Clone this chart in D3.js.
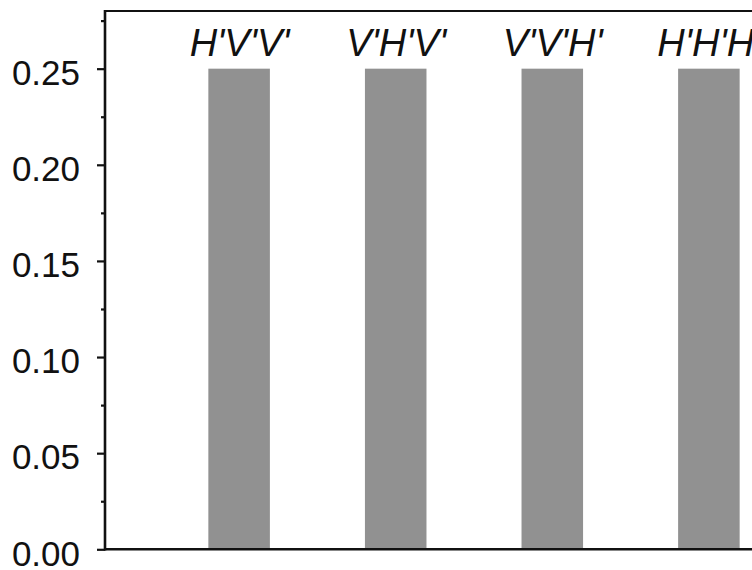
<!DOCTYPE html>
<html>
<head>
<meta charset="utf-8">
<script src="https://cdn.jsdelivr.net/npm/d3@7"></script>
<style>
  html, body { margin: 0; padding: 0; background: #fff; }
  svg { display: block; }
</style>
</head>
<body>
<svg id="chart" width="752" height="570"></svg>
<script>
const categories = ["H'V'V'", "V'H'V'", "V'V'H'", "H'H'H'"];
const values = [0.25, 0.25, 0.25, 0.25];
const majorTicks = [0.00, 0.05, 0.10, 0.15, 0.20, 0.25];
const minorTicks = [0.025, 0.075, 0.125, 0.175, 0.225, 0.275];

(function () {
const svg = d3.select("#chart");
const pLeft = 105, pTop = 11, pBottom = 549.3, pRight = 843;

const y = d3.scaleLinear().domain([0, 0.28]).range([pBottom, pTop]);
const x = d3.scaleBand().domain(categories).range([pLeft, pRight])
  .paddingInner(0.607).paddingOuter(0.66);

// bars
svg.append("g").selectAll("rect").data(values).join("rect")
  .attr("x", (d, i) => x(categories[i]))
  .attr("width", x.bandwidth())
  .attr("y", d => y(d))
  .attr("height", d => y(0) - y(d))
  .attr("fill", "#919191");

// category labels
svg.append("g").selectAll("text").data(categories).join("text")
  .attr("x", d => x(d) + x.bandwidth() / 2 + 0.5)
  .attr("y", 56)
  .attr("text-anchor", "middle")
  .attr("font-family", "Liberation Sans, Arial, sans-serif")
  .attr("font-style", "italic")
  .attr("font-size", 38)
  .attr("fill", "#111")
  .text(d => d);

// frame top and right
svg.append("line").attr("x1", pLeft).attr("x2", pRight).attr("y1", pTop).attr("y2", pTop)
  .attr("stroke", "#111").attr("stroke-width", 2.2);
svg.append("line").attr("x1", pRight).attr("x2", pRight).attr("y1", pTop).attr("y2", pBottom)
  .attr("stroke", "#111").attr("stroke-width", 2.2);

// bottom axis line
svg.append("line").attr("x1", pLeft).attr("x2", pRight).attr("y1", pBottom).attr("y2", pBottom)
  .attr("stroke", "#111").attr("stroke-width", 2.6);

// y axis
const yAxis = d3.axisLeft(y).tickValues(majorTicks).tickFormat(d3.format(".2f"))
  .tickSize(8).tickPadding(17);
const gy = svg.append("g").attr("transform", `translate(${pLeft},0)`).call(yAxis);
gy.select(".domain").remove();
gy.selectAll(".tick line").attr("stroke", "#111").attr("stroke-width", 2.2);
gy.selectAll(".tick text").attr("font-family", "Liberation Sans, Arial, sans-serif")
  .attr("font-size", 35).attr("fill", "#111").attr("dy", "0.45em");

const yMinor = d3.axisLeft(y).tickValues(minorTicks).tickFormat("").tickSize(4);
const gm = svg.append("g").attr("transform", `translate(${pLeft},0)`).call(yMinor);
gm.select(".domain").remove();
gm.selectAll(".tick line").attr("stroke", "#111").attr("stroke-width", 2.2);

svg.append("line").attr("x1", pLeft).attr("x2", pLeft).attr("y1", pTop - 1).attr("y2", pBottom + 1.3)
  .attr("stroke", "#111").attr("stroke-width", 2.6);
})();
</script>
</body>
</html>
